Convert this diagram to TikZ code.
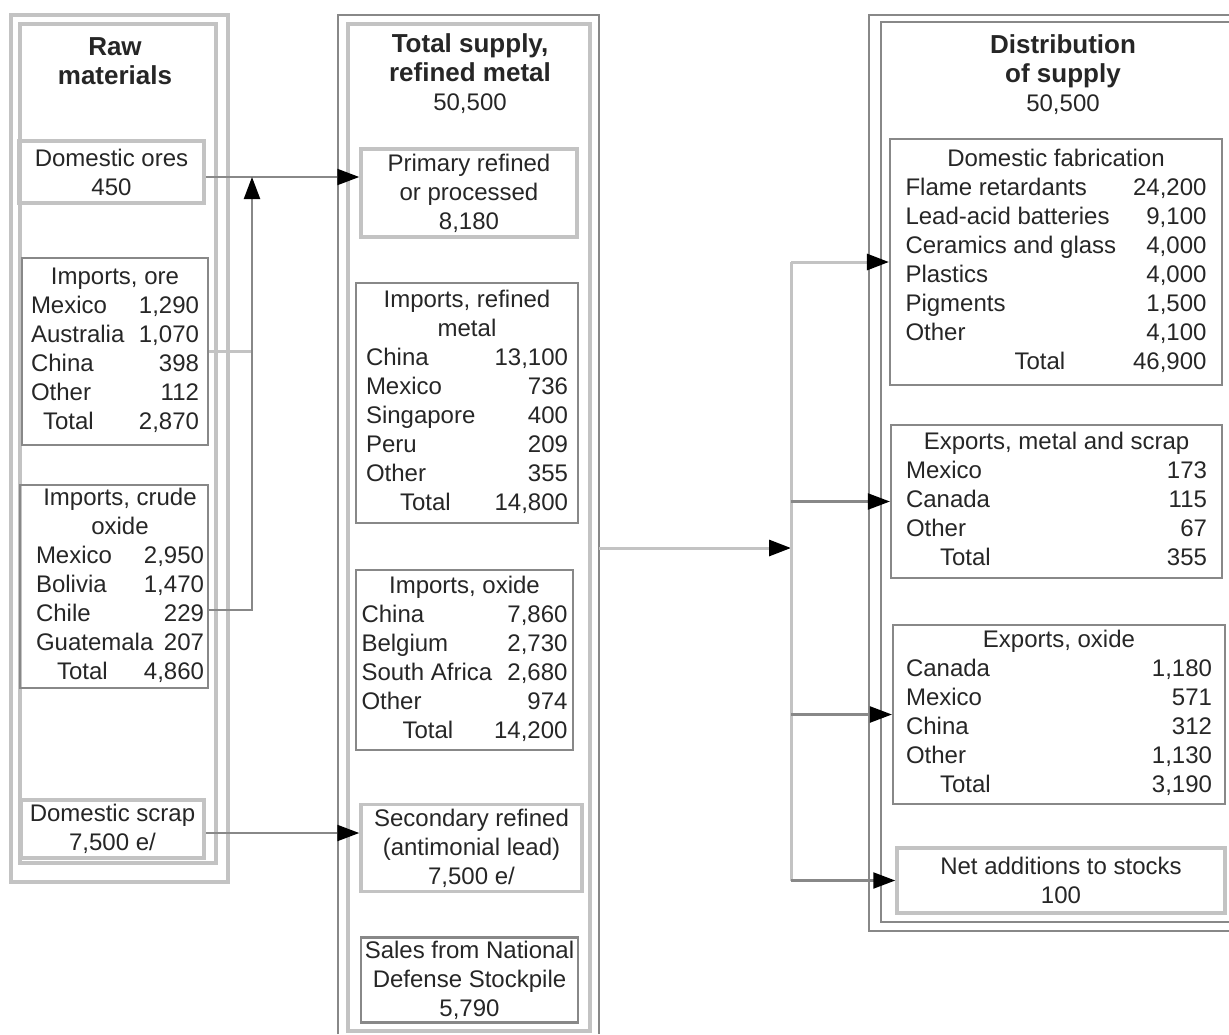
\documentclass[tikz,border=0pt]{standalone}
\usepackage{fontspec}
\setmainfont{Liberation Sans}
\usetikzlibrary{arrows.meta}
\definecolor{dk}{RGB}{136,136,136}
\definecolor{lt}{RGB}{195,195,195}
\newcommand{\flowtab}[2]{\begin{tabular*}{#1}{@{}l@{\extracolsep{\fill}}r@{}}#2\end{tabular*}}
\newcommand{\hd}[1]{\multicolumn{2}{@{}c@{}}{#1}}
\newcommand{\totnum}[1]{{\fontsize{24}{29}\selectfont\mdseries #1}}

\begin{document}
\begin{tikzpicture}[x=1pt,y=-1pt,line width=2.2pt,font=\fontsize{24}{29}\selectfont,
  tbox/.style={draw=#1,inner xsep=2pt,inner ysep=0pt,text=black!85},
  tbox/.default=dk,
  box/.style={tbox=#1,align=center},
  box/.default=dk,
  lbox/.style={box=lt,line width=3.5pt},
  title/.style={font=\fontsize{26}{29}\selectfont\bfseries,align=center,text=black!85},
  flow/.style={dk,-{Triangle[length=22pt,width=16pt,color=black]}}]
\useasboundingbox (0,0) rectangle (1229,1034);
\draw[lt,line width=3.5pt] (11,15) rectangle (228,882) (20,24) rectangle (216,863);
\draw[dk] (338,1034) |- (599,15) -- (599,1034);
\draw[lt,line width=3.5pt] (348,24) rectangle (590,1031);
\draw[dk] (1229,931) -| (869,15) -- (1229,15);
\draw[dk] (1229,922) -| (881,22) -- (1229,22);
\node[title] (rawt) at (115,61) {Raw\\materials};
\node[title] (supt) at (470,74) {Total supply,\\refined metal\\\totnum{50,500}};
\node[title] (distt) at (1063,75) {Distribution\\of supply\\\totnum{50,500}};
\node[lbox,minimum width=185pt,minimum height=62pt] (ores) at (111.5,172) {Domestic ores\\450};
\node[tbox,minimum width=186pt,minimum height=187pt] (impore) at (115,351.5) {\flowtab{168pt}{\hd{Imports, ore}\\Mexico&1,290\\Australia&1,070\\China&398\\Other&112\\\hspace*{12pt}Total&2,870}};
\node[tbox,minimum width=188pt,minimum height=201pt] (impcrude) at (114,586.5) {\hspace*{12pt}\flowtab{168pt}{\hd{Imports, crude}\\\hd{oxide}\\Mexico&2,950\\Bolivia&1,470\\Chile&229\\\rlap{Guatemala}&207\\\hspace*{21pt}Total&4,860}};
\node[lbox,minimum width=183pt,minimum height=58pt] (scrap) at (112.5,829) {Domestic scrap\\7,500 e/};
\node[lbox,minimum width=216pt,minimum height=88pt] (prim) at (469,193) {Primary refined\\or processed\\8,180};
\node[tbox,minimum width=222pt,minimum height=240pt] (imprm) at (467,403) {\flowtab{202pt}{\hd{Imports, refined}\\\hd{metal}\\China&13,100\\Mexico&736\\Singapore&400\\Peru&209\\Other&355\\\hspace*{34pt}Total&14,800}};
\node[tbox,minimum width=217pt,minimum height=180pt] (impox) at (464.5,660) {\flowtab{206pt}{\hd{Imports, oxide}\\China&7,860\\Belgium&2,730\\South Africa&2,680\\Other&974\\\hspace*{41pt}Total&14,200}};
\node[lbox,minimum width=221pt,minimum height=87pt] (second) at (471.5,848) {Secondary refined\\(antimonial lead)\\7,500 e/};
\node[box,minimum width=217pt,minimum height=85pt] (sales) at (469.5,980) {Sales from National\\Defense Stockpile\\5,790};
\node[tbox,minimum width=332pt,minimum height=246pt] (fab) at (1056,262) {\flowtab{301pt}{\hd{Domestic fabrication}\\Flame retardants&24,200\\Lead-acid batteries&9,100\\Ceramics and glass&4,000\\Plastics&4,000\\Pigments&1,500\\Other&4,100\\\hspace*{109pt}Total&46,900}};
\node[tbox,minimum width=331pt,minimum height=153pt] (expm) at (1056.5,501.5) {\flowtab{301pt}{\hd{Exports, metal and scrap}\\Mexico&173\\Canada&115\\Other&67\\\hspace*{34pt}Total&355}};
\node[tbox,minimum width=332pt,minimum height=179pt] (expo) at (1059,714.5) {\flowtab{306pt}{\hd{Exports, oxide}\\Canada&1,180\\Mexico&571\\China&312\\Other&1,130\\\hspace*{34pt}Total&3,190}};
\node[lbox,minimum width=328pt,minimum height=65pt] (stock) at (1061,880.5) {Net additions to stocks\\100};
\coordinate (j1) at (252,177);
\coordinate (chile) at (252,610);
\coordinate (sc) at (283,833);
\coordinate (feed) at (599,548);
\coordinate (bus) at (791,548);
\draw[flow] (ores.east |- j1) -- (prim.west |- j1);
\draw[lt] (impore.east) -- (impore.east -| j1);
\draw[flow] (impcrude.east |- chile) -- (chile) -- (j1);
\draw[flow] (scrap.east |- sc) -- (second.west |- sc);
\draw[flow,lt,line width=3pt] (feed) -- (bus);
\draw[lt,line width=3pt] (bus |- fab.west) -- (bus |- stock.west);
\draw[flow,lt,line width=3pt] (bus |- fab.west) -- (fab.west);
\draw[flow] (bus |- expm.west) -- (expm.west);
\draw[flow] (bus |- expo.west) -- (expo.west);
\draw[flow] (bus |- stock.west) -- (stock.west);
\end{tikzpicture}
\end{document}
